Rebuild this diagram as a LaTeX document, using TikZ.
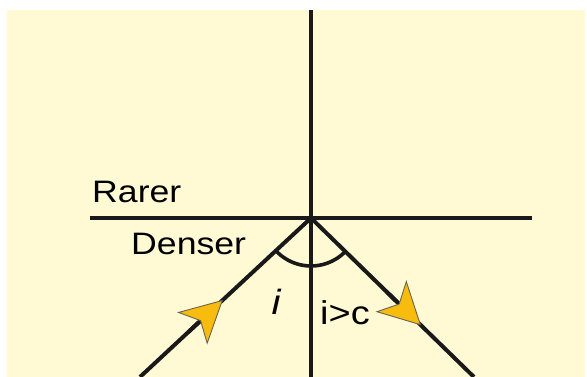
\documentclass[tikz,border=0pt]{standalone}
\usepackage{graphicx}
\usepackage{fontspec}
\setmainfont{Liberation Sans}
\usetikzlibrary{arrows.meta, positioning, calc}
\definecolor{tirbg}{RGB}{255,249,212}
\definecolor{tirline}{RGB}{25,25,25}
\definecolor{tiryellow}{RGB}{248,188,14}
\definecolor{tiredge}{RGB}{105,100,85}
\newcommand{\stretchtxt}[1]{\scalebox{1.15}[1]{#1}}

\begin{document}
\begin{tikzpicture}[x=1pt, y=1pt,
  ray/.style={draw=tirline, line width=4pt},
  raytip/.style={-{Stealth[length=42pt, width=44pt, inset=11pt, fill=tiryellow, color=tiredge, line width=0.9pt]}},
  medium/.style={inner sep=0pt, font=\fontsize{31}{36}\selectfont},
  anglab/.style={inner sep=0pt, font=\fontsize{33}{38}\selectfont}]
\useasboundingbox (-311,-159) rectangle (276,218);
\fill[tirbg] (-304,-159) rectangle (274,208);
% normal, surface and the two rays
\coordinate (O) at (0,0);
\coordinate (nt) at (0,208);
\coordinate (nb) at (0,-159);
\coordinate (sl) at (-221,0);
\coordinate (sr) at (221,0);
\coordinate (inc) at (-171,-159);
\coordinate (refl) at (163,-159);
\draw[ray] (nt) -- (nb);
\draw[ray] (sl) -- (sr);
\draw[ray, line join=miter] (inc) -- (O) -- (refl);
\draw[ray, line width=3.6pt] ($(O)+(222.9:48)$) arc[start angle=222.9, end angle=315.7, radius=48];
% arrowheads
\draw[ray, raytip] ($(O)!0.72!(inc)$) -- ($(O)!0.515!(inc)$);
\draw[ray, raytip] ($(O)!0.46!(refl)$) -- ($(O)!0.675!(refl)$);
% labels
\node[medium, anchor=base west] (rarer) at (-219,15) {\stretchtxt{Rarer}};
\node[medium, anchor=base west] (denser) at (-180,-37) {\stretchtxt{Denser}};
\node[anglab, anchor=base] (ilab) at (-35,-97) {\stretchtxt{\fontsize{35}{40}\selectfont\itshape i}};
\node[anglab, anchor=base west] (iclab) at (9,-107) {\stretchtxt{i>c}};
\end{tikzpicture}
\end{document}
